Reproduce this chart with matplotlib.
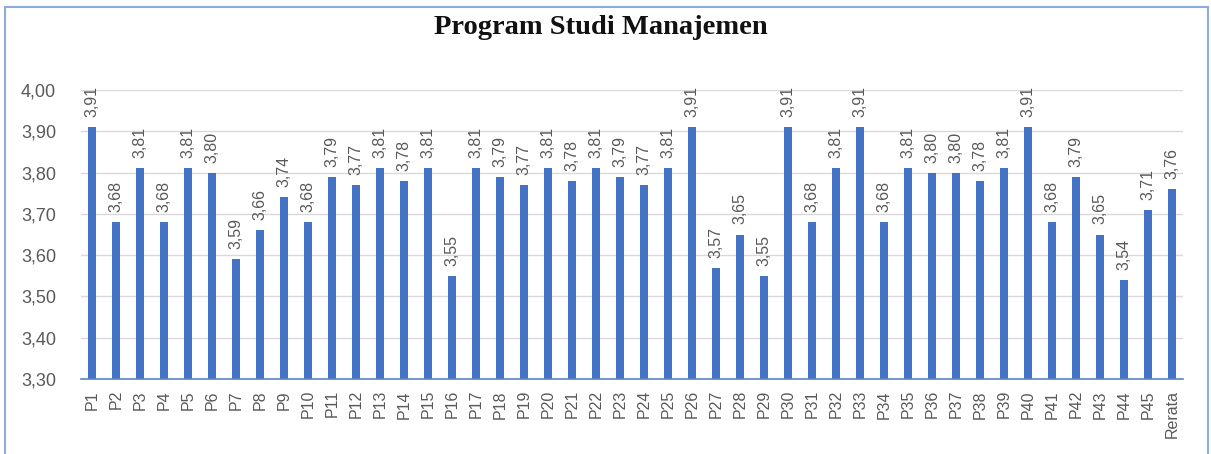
import matplotlib
matplotlib.use("Agg")
import matplotlib.pyplot as plt
from matplotlib.patches import Rectangle

categories = [f"P{i}" for i in range(1, 46)] + ["Rerata"]
values = [3.91, 3.68, 3.81, 3.68, 3.81, 3.80, 3.59, 3.66, 3.74, 3.68,
          3.79, 3.77, 3.81, 3.78, 3.81, 3.55, 3.81, 3.79, 3.77, 3.81,
          3.78, 3.81, 3.79, 3.77, 3.81, 3.91, 3.57, 3.65, 3.55, 3.91,
          3.68, 3.81, 3.91, 3.68, 3.81, 3.80, 3.80, 3.78, 3.81, 3.91,
          3.68, 3.79, 3.65, 3.54, 3.71, 3.76]
yticks = [3.30, 3.40, 3.50, 3.60, 3.70, 3.80, 3.90, 4.00]

bar_color = "#4472C4"
text_gray = "#595959"

plt.rcParams['font.family'] = ['Liberation Sans', 'DejaVu Sans']

fig = plt.figure(figsize=(12.11, 4.54), dpi=100)
ax = fig.add_axes([81 / 1211, 1 - 379 / 454, 1102 / 1211, 289 / 454])

x = list(range(len(categories)))
ax.bar(x, [v - 3.30 for v in values], bottom=3.30, width=0.3, color=bar_color, zorder=3)

for xi, v in zip(x, values):
    ax.annotate(f"{v:.2f}".replace(".", ","), (xi, v), xytext=(0, 10),
                textcoords="offset pixels", rotation=90, ha="center", va="bottom",
                fontsize=11.5, color=text_gray, annotation_clip=False)

ax.set_ylim(3.30, 4.00)
ax.set_xlim(-0.46, len(categories) - 1 + 0.46)
ax.set_yticks(yticks)
ax.set_yticklabels([f"{t:.2f}".replace(".", ",") for t in yticks], fontsize=13, color=text_gray)
ax.set_xticks(x)
ax.set_xticklabels(categories, rotation=90, fontsize=11.5, color=text_gray)
ax.tick_params(axis="x", length=0, pad=8)
ax.tick_params(axis="y", length=0, pad=18)
ax.grid(axis="y", color="#D9D9D9", linewidth=1, zorder=0)
for s in ["top", "right", "left"]:
    ax.spines[s].set_visible(False)
ax.spines["bottom"].set_color("#5B83C9")
ax.spines["bottom"].set_linewidth(1.2)
ax.spines["bottom"].set_zorder(4)

fig.text(601 / 1211, 1 - 28 / 454, "Program Studi Manajemen", ha="center", va="center",
         fontsize=20.5, fontweight="bold", family="Liberation Serif", color="#111111")

fig.patches.append(Rectangle((5 / 1211, -0.05), 1203 / 1211, 1.05 - 7 / 454,
                             transform=fig.transFigure, fill=False,
                             edgecolor="#8FAADC", linewidth=1.5))

fig.savefig("out.png", dpi=100)
